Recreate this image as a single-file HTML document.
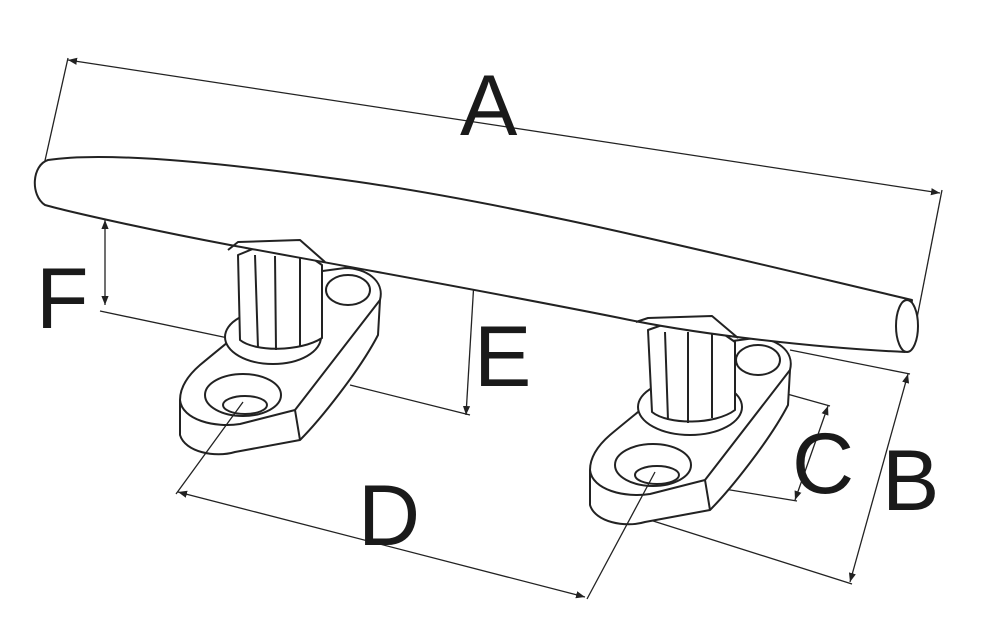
<!DOCTYPE html>
<html><head><meta charset="utf-8"><style>
html,body{margin:0;padding:0;background:#fff}
svg{display:block}
text{font-family:"Liberation Sans",sans-serif;font-size:86px;fill:#1a1a1a}
</style></head><body>
<svg width="988" height="641" viewBox="0 0 988 641" xmlns="http://www.w3.org/2000/svg">
<defs>
<marker id="ar" viewBox="0 0 10 10" refX="10" refY="5" markerWidth="9" markerHeight="9" orient="auto-start-reverse" markerUnits="userSpaceOnUse">
<path d="M0,1 L10,5 L0,9 z" fill="#222"/></marker>
</defs>
<g fill="none" stroke="#222" stroke-width="1.3">
<line x1="68" y1="60" x2="940" y2="193" marker-start="url(#ar)" marker-end="url(#ar)"/>
<line x1="68" y1="58" x2="44" y2="165"/>
<line x1="942" y1="190" x2="917" y2="318"/>
<line x1="105" y1="220" x2="105" y2="305" marker-start="url(#ar)" marker-end="url(#ar)"/>
<line x1="100" y1="311" x2="228" y2="338"/>
<line x1="478" y1="214" x2="466" y2="415" marker-start="url(#ar)" marker-end="url(#ar)"/>
<line x1="350" y1="385" x2="470" y2="415"/>
<line x1="178" y1="492" x2="585" y2="597" marker-start="url(#ar)" marker-end="url(#ar)"/>
<line x1="828" y1="406" x2="795" y2="500" marker-start="url(#ar)" marker-end="url(#ar)"/>
<line x1="780" y1="392" x2="830" y2="406"/>
<line x1="700" y1="485" x2="797" y2="501"/>
<line x1="908" y1="374" x2="850" y2="582" marker-start="url(#ar)" marker-end="url(#ar)"/>
<line x1="790" y1="350" x2="910" y2="374"/>
<line x1="650" y1="520" x2="852" y2="584"/>
</g>
<g fill="#fff" stroke="#222" stroke-width="2" stroke-linejoin="round">
<path d="M180 400 L180 435 C185 452 215 458 235 452 L300 440 C320 420 360 370 378 335 L380 300 C385 280 365 268 345 268 L315 272 C280 300 230 340 200 365 C185 378 180 390 180 400 Z"/>
<path d="M180 400 C182 420 215 428 240 424 L295 410 L380 300" fill="none"/>
<path d="M295 410 L300 440" fill="none"/>
<ellipse cx="243" cy="395" rx="38" ry="21"/>
<ellipse cx="245" cy="405" rx="22" ry="9"/>
<ellipse cx="348" cy="290" rx="22" ry="15"/>
<ellipse cx="273" cy="337" rx="48" ry="27"/>
<path d="M238 255 L240 340 C255 352 300 352 322 338 L322 265 L300 250 L255 248 Z"/>
<path d="M255 255 L258 348 M275 256 L276 350 M300 255 L300 346"/>
<path d="M590 470 L590 505 C595 522 625 528 645 522 L710 510 C730 490 770 440 788 405 L790 370 C795 350 775 338 755 338 L725 342 C690 370 640 410 610 435 C595 448 590 460 590 470 Z"/>
<path d="M590 470 C592 490 625 498 650 494 L705 480 L790 370" fill="none"/>
<path d="M705 480 L710 510" fill="none"/>
<ellipse cx="653" cy="465" rx="38" ry="21"/>
<ellipse cx="657" cy="475" rx="22" ry="9"/>
<ellipse cx="758" cy="360" rx="22" ry="15"/>
<ellipse cx="690" cy="407" rx="52" ry="28"/>
<path d="M648 330 L652 412 C668 425 715 425 735 410 L735 342 L712 326 L665 324 Z"/>
<path d="M665 332 L668 420 M688 332 L688 423 M712 332 L712 418"/>
<path d="M48 160 C100 152 200 160 330 178 C500 200 700 250 912 300 L905 352 C820 348 700 335 620 318 C480 290 300 258 230 245 C150 230 70 212 45 205 C30 195 32 165 48 160 Z"/>
<ellipse cx="907" cy="326" rx="11" ry="26"/>
<path d="M228 250 L238 242 L300 240 L325 262 M636 322 L648 318 L712 316 L738 338" fill="none"/>
</g>
<g fill="none" stroke="#222" stroke-width="1.3">
<line x1="176" y1="494" x2="243" y2="402"/>
<line x1="587" y1="599" x2="655" y2="472"/>
</g>
<text x="460" y="135">A</text>
<text x="36" y="328">F</text>
<text x="474" y="386">E</text>
<text x="358" y="545">D</text>
<text x="792" y="493">C</text>
<text x="882" y="510">B</text>
</svg>
</body></html>
